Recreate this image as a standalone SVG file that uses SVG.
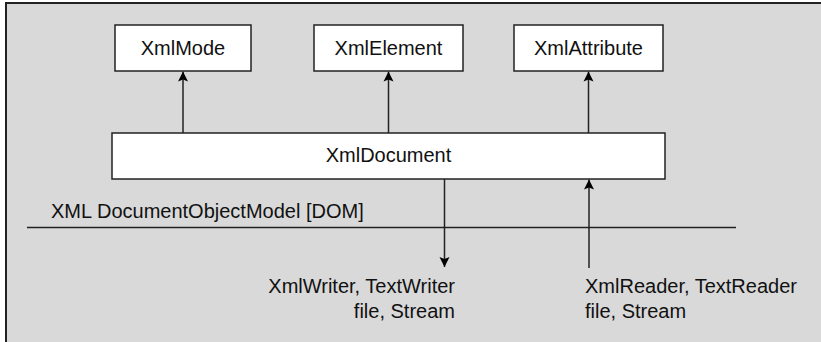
<svg xmlns="http://www.w3.org/2000/svg" width="821" height="342" viewBox="0 0 821 342">
<style>
.box{fill:#ffffff;stroke:#222;stroke-width:1.5}
.t{font-family:"Liberation Sans",Arial,sans-serif;font-size:20px;fill:#111}
.c{stroke:#222;stroke-width:1.5;fill:none}
</style>
<defs>
<marker id="ah" viewBox="0 0 10 14" refX="10" refY="7" markerWidth="10" markerHeight="14" markerUnits="userSpaceOnUse" orient="auto">
<path d="M0,2 L10,7 L0,12 L2,7 Z" fill="#000"/>
</marker>
</defs>
<rect x="0" y="0" width="821" height="342" fill="#ffffff"/>
<rect x="6" y="3" width="830" height="350" fill="#d9d9d9" stroke="#222" stroke-width="2"/>
<g id="xmlmode"><rect class="box" x="115" y="25" width="136" height="46"/><text class="t" x="183" y="55" text-anchor="middle">XmlMode</text></g>
<g id="xmlelement"><rect class="box" x="314" y="25" width="149" height="46"/><text class="t" x="388.5" y="55" text-anchor="middle">XmlElement</text></g>
<g id="xmlattribute"><rect class="box" x="514" y="25" width="149" height="46"/><text class="t" x="588.5" y="55" text-anchor="middle">XmlAttribute</text></g>
<g id="xmldocument"><rect class="box" x="112" y="133" width="553" height="46"/><text class="t" x="388.5" y="162" text-anchor="middle">XmlDocument</text></g>
<g id="dom"><text class="t" x="51" y="218">XML DocumentObjectModel [DOM]</text><line class="c" x1="27" y1="227.5" x2="736" y2="227.5"/></g>
<g id="writer"><text class="t" x="455" y="293" text-anchor="end">XmlWriter, TextWriter</text><text class="t" x="455" y="318" text-anchor="end">file, Stream</text></g>
<g id="reader"><text class="t" x="585" y="293">XmlReader, TextReader</text><text class="t" x="585" y="318">file, Stream</text></g>
<g id="connectors">
<line class="c" x1="183" y1="133" x2="183" y2="71.5" marker-end="url(#ah)"/>
<line class="c" x1="388.5" y1="133" x2="388.5" y2="71.5" marker-end="url(#ah)"/>
<line class="c" x1="588.5" y1="133" x2="588.5" y2="71.5" marker-end="url(#ah)"/>
<line class="c" x1="444.5" y1="179" x2="444.5" y2="267" marker-end="url(#ah)"/>
<line class="c" x1="589" y1="268" x2="589" y2="179.5" marker-end="url(#ah)"/>
</g>
</svg>
